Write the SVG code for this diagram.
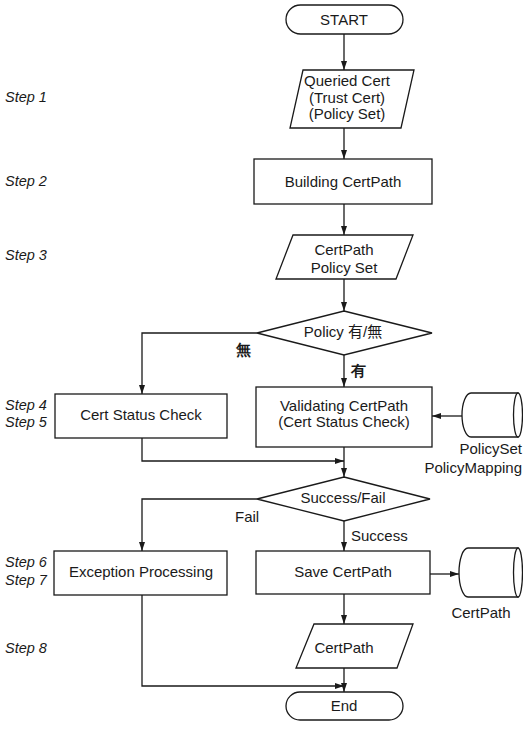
<svg xmlns="http://www.w3.org/2000/svg" width="523" height="732" viewBox="0 0 523 732">
<style>
.s{fill:#fff;stroke:#1a1a1a;stroke-width:1.3}
.c{fill:none;stroke:#1a1a1a;stroke-width:1.3}
.t{font-family:"Liberation Sans",Arial,sans-serif;font-size:15px;fill:#1a1a1a;text-anchor:middle}
.k{font-family:"Liberation Sans","Noto Sans CJK KR",sans-serif}
.st{font-family:"Liberation Sans",Arial,sans-serif;font-size:14.5px;font-style:italic;fill:#1a1a1a}
.lb{font-family:"Liberation Sans",Arial,sans-serif;font-size:15px;fill:#1a1a1a}
</style>
<defs>
<marker id="a" markerWidth="9" markerHeight="6" refX="9" refY="3" orient="auto" markerUnits="userSpaceOnUse">
<path d="M0,0 L9,3 L0,6 Z" fill="#1a1a1a"/>
</marker>
</defs>
<rect width="523" height="732" fill="#fff"/>
<g id="steps">
<text class="st" x="5" y="102">Step 1</text>
<text class="st" x="5" y="186">Step 2</text>
<text class="st" x="5" y="260">Step 3</text>
<text class="st" x="5" y="410">Step 4</text>
<text class="st" x="5" y="427">Step 5</text>
<text class="st" x="5" y="567">Step 6</text>
<text class="st" x="5" y="585">Step 7</text>
<text class="st" x="5" y="653">Step 8</text>
</g>
<g id="connectors">
<path class="c" d="M344,34 V70" marker-end="url(#a)"/>
<path class="c" d="M344,128 V159" marker-end="url(#a)"/>
<path class="c" d="M344,204 V235" marker-end="url(#a)"/>
<path class="c" d="M344,279 V311" marker-end="url(#a)"/>
<path class="c" d="M344,355 V387" marker-end="url(#a)"/>
<path class="c" d="M257,333 H142 V394" marker-end="url(#a)"/>
<path class="c" d="M462,416 H432" marker-end="url(#a)"/>
<path class="c" d="M142,438 V461 H344" marker-end="url(#a)"/>
<path class="c" d="M344,447 V477" marker-end="url(#a)"/>
<path class="c" d="M257,499 H142 V551" marker-end="url(#a)"/>
<path class="c" d="M344,521 V551" marker-end="url(#a)"/>
<path class="c" d="M430,574 H459" marker-end="url(#a)"/>
<path class="c" d="M344,594 V624" marker-end="url(#a)"/>
<path class="c" d="M142,595 V686 H344" marker-end="url(#a)"/>
<path class="c" d="M344,668 V692" marker-end="url(#a)"/>
<text class="lb k" x="236" y="355" font-size="13" font-weight="bold">無</text>
<text class="lb k" x="351" y="376" font-size="13" font-weight="bold">有</text>
<text class="lb" x="235" y="522">Fail</text>
<text class="lb" x="351" y="541">Success</text>
</g>
<g id="start">
<rect class="s" x="286" y="5" width="117" height="29" rx="14.5"/>
<text class="t" x="344" y="25">START</text>
</g>
<g id="queried">
<path class="s" d="M303,70 H414 L401,128 H290 Z"/>
<text class="t" x="347" y="86">Queried Cert</text>
<text class="t" x="347" y="103">(Trust Cert)</text>
<text class="t" x="347" y="119">(Policy Set)</text>
</g>
<g id="building">
<rect class="s" x="254" y="159" width="178" height="45"/>
<text class="t" x="343" y="187">Building CertPath</text>
</g>
<g id="certpath-policy">
<path class="s" d="M293,235 H413 L396,279 H276 Z"/>
<text class="t" x="344" y="255">CertPath</text>
<text class="t" x="344" y="273">Policy Set</text>
</g>
<g id="policy-decision">
<path class="s" d="M344,311 L432,333 L344,355 L257,333 Z"/>
<text class="t k" x="343" y="337">Policy 有/無</text>
</g>
<g id="cert-status">
<rect class="s" x="55" y="394" width="172" height="44"/>
<text class="t" x="141" y="420">Cert Status Check</text>
</g>
<g id="validating">
<rect class="s" x="256" y="387" width="176" height="60"/>
<text class="t" x="344" y="411">Validating CertPath</text>
<text class="t" x="344" y="427">(Cert Status Check)</text>
</g>
<g id="policyset-db">
<path class="s" d="M471,393 H518 V437 H471 A9,22 0 0 1 471,393 Z"/>
<ellipse class="s" cx="518" cy="415" rx="4.5" ry="22"/>
<text class="lb" x="522" y="454" text-anchor="end">PolicySet</text>
<text class="lb" x="522" y="473" text-anchor="end">PolicyMapping</text>
</g>
<g id="success-decision">
<path class="s" d="M344,477 L430,499 L344,521 L257,499 Z"/>
<text class="t" x="343" y="503">Success/Fail</text>
</g>
<g id="exception">
<rect class="s" x="54" y="551" width="173" height="44"/>
<text class="t" x="141" y="577">Exception Processing</text>
</g>
<g id="save">
<rect class="s" x="256" y="551" width="174" height="43"/>
<text class="t" x="343" y="577">Save CertPath</text>
</g>
<g id="certpath-db">
<path class="s" d="M468,548 H518 V597 H468 A9,24.5 0 0 1 468,548 Z"/>
<ellipse class="s" cx="518" cy="572.5" rx="4.5" ry="24.5"/>
<text class="lb" x="481" y="618" text-anchor="middle">CertPath</text>
</g>
<g id="certpath-out">
<path class="s" d="M314,624 H413 L397,668 H296 Z"/>
<text class="t" x="344" y="653">CertPath</text>
</g>
<g id="end">
<rect class="s" x="286" y="692" width="117" height="28" rx="14"/>
<text class="t" x="344" y="711">End</text>
</g>
</svg>
